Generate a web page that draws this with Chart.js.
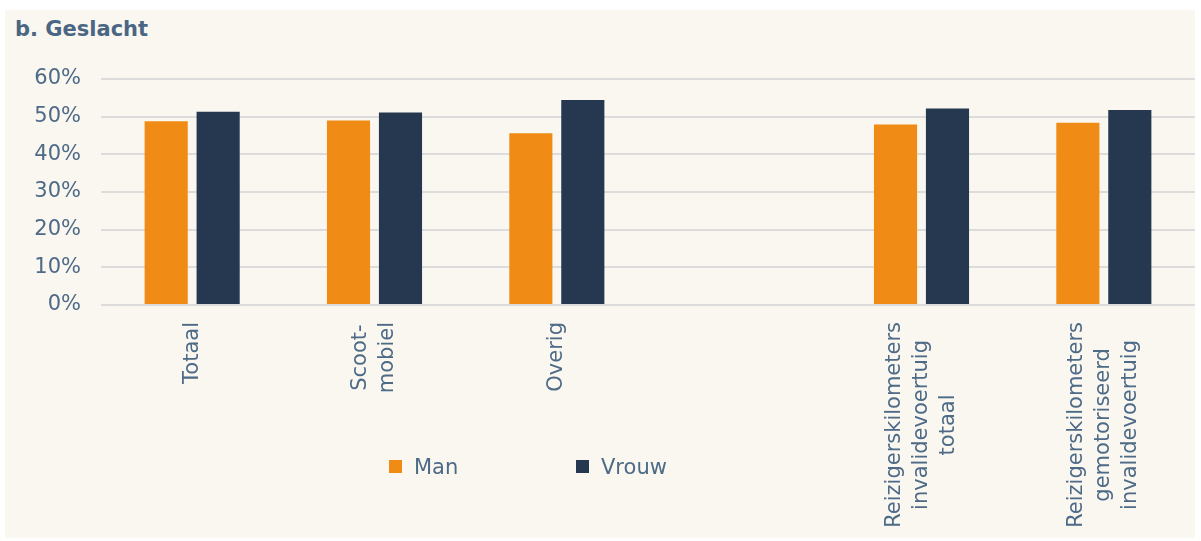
<!DOCTYPE html>
<html>
<head>
<meta charset="utf-8">
<script src="https://cdn.jsdelivr.net/npm/chart.js@4.4.0/dist/chart.umd.min.js"></script>
<style>
  body { margin: 0; background: #fff; font-family: "DejaVu Sans", Verdana, sans-serif; }
  #wrap { position: relative; width: 1201px; height: 541px; }
  #panel { position: absolute; left: 5px; top: 10px; width: 1190px; height: 528px; background: #faf7f0; }
  #title { position: absolute; left: 15px; top: 17px; font-size: 21px; font-weight: bold; color: #4a6683; }
  #chart { position: absolute; left: 0; top: 0; }
  .leg { position: absolute; top: 455px; font-size: 21px; color: #4d6a87; line-height: 24px; }
  .leg span { display: inline-block; width: 13px; height: 13px; margin-right: 12px; vertical-align: 1px; }
</style>
</head>
<body>
<div id="wrap">
  <div id="panel"></div>
  <div id="title">b. Geslacht</div>
  <canvas id="chart" width="1201" height="541"></canvas>
  <div class="leg" style="left:389px"><span style="background:#f08c15"></span>Man</div>
  <div class="leg" style="left:576px"><span style="background:#253850"></span>Vrouw</div>
</div>
<script>
// categorieen (lege kolom tussen Overig en Reizigerskilometers)
const categories = [
  ['Totaal'],
  ['Scoot-', 'mobiel'],
  ['Overig'],
  [''],
  ['Reizigerskilometers', 'invalidevoertuig', 'totaal'],
  ['Reizigerskilometers', 'gemotoriseerd', 'invalidevoertuig']
];
const manValues = [48.8, 49.0, 45.6, null, 47.9, 48.4];
const vrouwValues = [51.3, 51.1, 54.4, null, 52.2, 51.8];
const yTicks = [0, 10, 20, 30, 40, 50, 60];

const textColor = '#4d6a87';
const fontFamily = '"DejaVu Sans", Verdana, sans-serif';

// eigen x-as labels: per label regels gecentreerd, gedraaid
const xLabelPlugin = {
  id: 'xLabels',
  afterDraw(chart) {
    const ctx = chart.ctx;
    const x = chart.scales.x;
    const bottom = chart.chartArea.bottom;
    ctx.save();
    ctx.font = '21px ' + fontFamily;
    ctx.fillStyle = textColor;
    ctx.textAlign = 'center';
    ctx.textBaseline = 'middle';
    categories.forEach((lines, i) => {
      const cx = x.getPixelForValue(i);
      const w = Math.max(...lines.map(l => ctx.measureText(l).width));
      const cy = bottom + 17 + w / 2;
      const lh = 27;
      lines.forEach((line, j) => {
        const lx = cx + (j - (lines.length - 1) / 2) * lh;
        ctx.save();
        ctx.translate(lx, cy);
        ctx.rotate(-Math.PI / 2);
        ctx.fillText(line, 0, 0);
        ctx.restore();
      });
    });
    ctx.restore();
  }
};

new Chart(document.getElementById('chart'), {
  type: 'bar',
  data: {
    labels: categories.map(c => c.join(' ')),
    datasets: [
      { label: 'Man', data: manValues, backgroundColor: '#f08c15' },
      { label: 'Vrouw', data: vrouwValues, backgroundColor: '#253850' }
    ]
  },
  options: {
    responsive: false,
    animation: false,
    layout: { padding: { top: 79, right: 6, left: 0, bottom: 0 } },
    datasets: { bar: { barPercentage: 0.83, categoryPercentage: 0.57 } },
    plugins: { legend: { display: false }, tooltip: { enabled: false } },
    scales: {
      x: {
        grid: { display: false },
        border: { display: false },
        ticks: { display: false },
        afterFit: s => { s.height = 236; }
      },
      y: {
        min: 0,
        max: 60,
        afterBuildTicks: s => { s.ticks = yTicks.map(v => ({ value: v })); },
        grid: { color: '#dcdcdc', lineWidth: 2, drawTicks: false },
        border: { display: false },
        ticks: {
          color: textColor,
          padding: 20,
          font: { family: fontFamily, size: 21 },
          callback: v => v + '%'
        },
        afterFit: s => { s.width = 101; }
      }
    }
  },
  plugins: [xLabelPlugin]
});
</script>
</body>
</html>
